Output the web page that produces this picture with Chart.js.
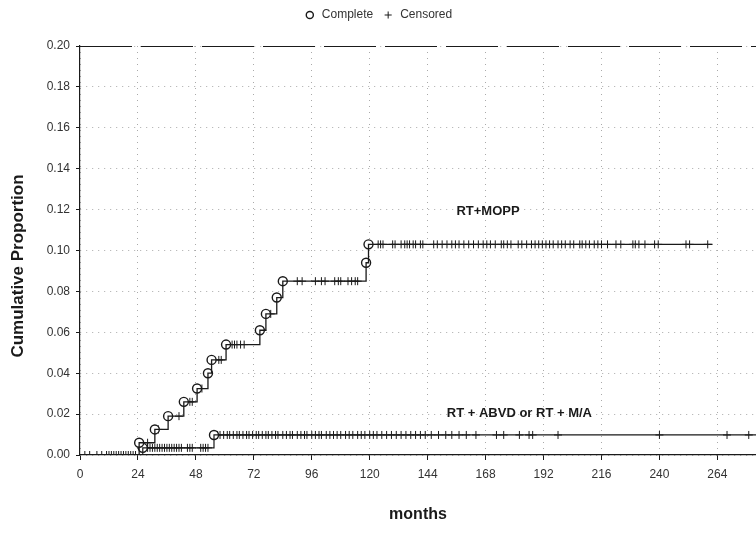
<!DOCTYPE html>
<html>
<head>
<meta charset="utf-8">
<script src="https://cdn.jsdelivr.net/npm/chart.js@4/dist/chart.umd.min.js"></script>
<style>
  body { margin: 0; background: #fff; }
  #wrap { width: 756px; height: 537px; }
</style>
</head>
<body>
<div id="wrap"><canvas id="cumChart" width="756" height="537"></canvas></div>
<script>
// axis ticks
const xTickValues = [0, 24, 48, 72, 96, 120, 144, 168, 192, 216, 240, 264];
const yTickValues = [0, 0.02, 0.04, 0.06, 0.08, 0.10, 0.12, 0.14, 0.16, 0.18, 0.20];
const yTitle = "Cumulative Proportion";

// RT+MOPP : event times (months) and cumulative proportion after each event
const moppEventMonths = [24.5, 31, 36.5, 43, 48.5, 53, 54.5, 60.5, 74.5, 77, 81.5, 84, 118.5, 119.5];
const moppEventValues = [0.006, 0.0125, 0.019, 0.026, 0.0325, 0.040, 0.0465, 0.054, 0.061, 0.069, 0.077, 0.085, 0.094, 0.103];
const moppCensorMonths = [28, 32.5, 41, 45.5, 46.5, 50.5, 57.5, 58.5, 63, 64, 65, 66.5, 68, 75.5, 79,
  90, 92, 97.5, 100, 101.5, 105.5, 107, 108, 111, 112.5, 114, 115,
  123.5, 124.5, 125.5, 129.5, 130.5, 133, 134.5, 135.5, 136.5, 138, 139, 141, 142, 146.5, 148, 150,
  152, 154, 155.5, 157, 159, 161, 163, 165, 167, 168.5, 170, 172, 174.5, 175.5, 177, 178.5, 181.5,
  183, 185, 187, 188.5, 190, 191.5, 193, 194.5, 196, 198, 199.5, 201, 203, 204.5, 207, 208, 209.5,
  211, 213, 214.5, 216, 218.5, 222, 224, 229, 230, 231.5, 234, 238, 239.5, 251, 252.5, 260];
const moppLastMonth = 262;

// RT + ABVD or RT + M/A
const abvdEventMonths = [26, 55.5];
const abvdEventValues = [0.0035, 0.0098];
const abvdCensorMonths = [2, 4, 7, 9, 11, 12, 13, 14, 15, 16, 17, 18, 19, 20, 21, 22, 23,
  27, 28, 29, 30, 31, 32, 33, 34, 35, 36, 37, 38, 39, 40, 41, 42, 44.5, 45.5, 46.5, 50, 51, 52, 53,
  57, 58, 59.5, 61, 62, 63.5, 65, 66, 67.5, 69, 70, 71.5, 73, 74, 75.5, 77, 78, 79.5, 81, 82, 84,
  85.5, 87, 88, 90, 91.5, 93, 94, 96, 97.5, 99, 100, 102, 103.5, 105, 106.5, 108, 110, 111.5, 113,
  115, 116.5, 118, 120, 121.5, 123, 125, 127, 129, 131, 133, 135, 137, 139, 141, 143, 145.5, 148.5,
  151.5, 154, 157, 160, 164, 172.5, 175.5, 182, 186, 187.5, 198, 240, 268, 277];
const abvdLastMonth = 280;

// text written next to the curves
const curveLabelTexts = ["RT+MOPP", "RT + ABVD or RT + M/A"];
const curveLabelMonths = [169, 182];
const curveLabelValues = [0.119, 0.0205];

// value of the step curve at time t
function levelAt(months, values, t) {
  let v = 0;
  months.forEach((m, i) => { if (m <= t) v = values[i]; });
  return v;
}

function stepPoints(months, values, last) {
  const pts = [{ x: 0, y: 0 }];
  months.forEach((m, i) => pts.push({ x: m, y: values[i] }));
  pts.push({ x: last, y: values[values.length - 1] });
  return pts;
}

const fontFamily = '"Liberation Sans", Arial, Helvetica, sans-serif';
const ink = '#1a1a1a';

// legend box is made taller so the plot starts lower, like the scan
const legendSpacer = {
  id: 'legendSpacer',
  beforeInit(chart) {
    const fitLegend = chart.legend.fit;
    chart.legend.fit = function () { fitLegend.call(this); this.height = 46; };
  }
};

const curveLabelPlugin = {
  id: 'curveLabels',
  afterDraw(chart) {
    const { ctx, chartArea, scales } = chart;
    ctx.save();
    // top frame line (dashed like the scan)
    ctx.strokeStyle = ink;
    ctx.lineWidth = 1;
    ctx.setLineDash([52, 9]);
    ctx.beginPath();
    ctx.moveTo(chartArea.left, chartArea.top + 0.5);
    ctx.lineTo(chartArea.right, chartArea.top + 0.5);
    ctx.stroke();
    ctx.setLineDash([]);
    ctx.fillStyle = ink;
    ctx.textAlign = 'center';
    ctx.textBaseline = 'middle';
    ctx.font = 'bold 13px ' + fontFamily;
    curveLabelTexts.forEach((t, i) => {
      ctx.fillText(t, scales.x.getPixelForValue(curveLabelMonths[i]), scales.y.getPixelForValue(curveLabelValues[i]));
    });
    // y axis title
    ctx.font = 'bold 17px ' + fontFamily;
    ctx.translate(18, 266);
    ctx.rotate(-Math.PI / 2);
    ctx.fillText(yTitle, 0, 0);
    ctx.restore();
  }
};

new Chart(document.getElementById('cumChart'), {
  type: 'line',
  data: {
    datasets: [
      {
        label: 'RT+MOPP',
        data: stepPoints(moppEventMonths, moppEventValues, moppLastMonth),
        stepped: 'before',
        borderColor: ink,
        borderWidth: 1.3,
        pointRadius: 0,
        fill: false
      },
      {
        label: 'RT + ABVD or RT + M/A',
        data: stepPoints(abvdEventMonths, abvdEventValues, abvdLastMonth),
        stepped: 'before',
        borderColor: ink,
        borderWidth: 1.2,
        pointRadius: 0,
        fill: false,
        segment: {
          borderDash: ctx => ctx.p0.parsed.x >= 198 ? [1, 4] : undefined,
          borderColor: ctx => ctx.p0.parsed.x >= 198 ? '#777' : undefined
        }
      },
      {
        label: 'Complete',
        type: 'scatter',
        data: moppEventMonths.map((m, i) => ({ x: m, y: moppEventValues[i] })),
        pointStyle: 'circle',
        pointRadius: 4.5,
        backgroundColor: '#fff',
        borderColor: ink,
        borderWidth: 1.4
      },
      {
        label: 'Censored',
        type: 'scatter',
        data: moppCensorMonths.map(m => ({ x: m, y: levelAt(moppEventMonths, moppEventValues, m) })),
        pointStyle: 'cross',
        pointRadius: 4,
        borderColor: ink,
        borderWidth: 1
      },
      {
        label: 'Complete ABVD',
        type: 'scatter',
        data: abvdEventMonths.map((m, i) => ({ x: m, y: abvdEventValues[i] })),
        pointStyle: 'circle',
        pointRadius: 4.5,
        backgroundColor: '#fff',
        borderColor: ink,
        borderWidth: 1.4
      },
      {
        label: 'Censored ABVD',
        type: 'scatter',
        data: abvdCensorMonths.map(m => ({ x: m, y: levelAt(abvdEventMonths, abvdEventValues, m) })),
        pointStyle: 'cross',
        pointRadius: 4,
        borderColor: ink,
        borderWidth: 1
      }
    ]
  },
  options: {
    responsive: false,
    animation: false,
    layout: { autoPadding: false, padding: { left: 0, right: 0, top: 0, bottom: 0 } },
    plugins: {
      legend: {
        display: true,
        position: 'top',
        labels: {
          filter: item => item.text === 'Complete' || item.text === 'Censored',
          usePointStyle: true,
          boxHeight: 5,
          padding: 9,
          color: '#333',
          font: { family: fontFamily, size: 12 }
        }
      },
      tooltip: { enabled: false }
    },
    scales: {
      x: {
        type: 'linear',
        min: 0,
        max: 280,
        afterBuildTicks: scale => { scale.ticks = xTickValues.map(v => ({ value: v })); },
        afterFit: scale => { scale.height = 82; scale.paddingRight = 0; },
        ticks: { color: '#333', font: { family: fontFamily, size: 12 }, padding: 7, maxRotation: 0 },
        grid: { color: '#aaa', lineWidth: 1, tickLength: 5, tickColor: ink },
        border: { display: true, color: ink, width: 1.2, dash: [1, 5] },
        title: { display: true, text: 'months', color: ink, font: { family: fontFamily, size: 16, weight: 'bold' }, padding: { top: 4, bottom: 13 } }
      },
      y: {
        min: 0,
        max: 0.2,
        afterBuildTicks: scale => { scale.ticks = yTickValues.map(v => ({ value: v })); },
        afterFit: scale => { scale.width = 80; },
        ticks: { color: '#333', font: { family: fontFamily, size: 12 }, padding: 6, callback: v => v.toFixed(2) },
        grid: { color: '#aaa', lineWidth: 1, tickLength: 4, tickColor: ink },
        border: { display: true, color: ink, width: 1.2, dash: [1, 5] },
        title: { display: false }
      }
    }
  },
  plugins: [legendSpacer, curveLabelPlugin]
});
</script>
</body>
</html>
